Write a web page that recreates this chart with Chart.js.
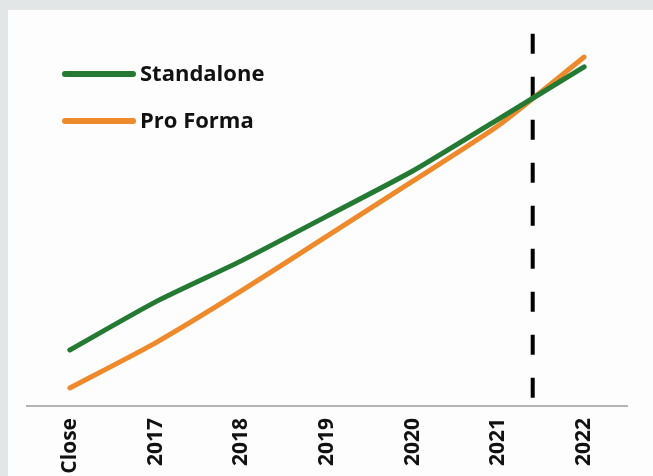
<!DOCTYPE html>
<html>
<head>
<meta charset="utf-8">
<script src="https://cdn.jsdelivr.net/npm/chart.js@4/dist/chart.umd.min.js"></script>
<style>
  html, body { margin: 0; padding: 0; }
  body { width: 653px; height: 476px; background: #e3e6e6; position: relative; overflow: hidden; }
  #panel { position: absolute; left: 8px; top: 10px; width: 645px; height: 466px; background: #fdfdfd; }
  canvas { display: block; }
</style>
</head>
<body>
<div id="panel"><canvas id="c" width="645" height="466"></canvas></div>
<script>
// ---- data ----
const categories = ['Close', '2017', '2018', '2019', '2020', '2021', '2022'];
const standalone = [14.9, 27.7, 38.6, 50.5, 62.5, 76.3, 90.2];
const proForma   = [4.8, 16.8, 30.6, 45.2, 59.8, 74.6, 92.8];
const seriesNames = ['Standalone', 'Pro Forma'];
const markerX = 5.4;             // position between 2021 and 2022 (category index)
const markerSpan = [99, 1.5];    // vertical extent of the dashed marker (value units)

const GREEN = '#247a33';
const ORANGE = '#ef8a2c';
const FONT = "'Open Sans', 'DejaVu Sans', sans-serif";

const legendPlugin = {
  id: 'insideLegend',
  afterDatasetsDraw(chart, args, opts) {
    const ctx = chart.ctx;
    const area = chart.chartArea;
    ctx.save();
    ctx.font = `bold ${opts.fontSize}px ${FONT}`;
    ctx.textBaseline = 'middle';
    ctx.textAlign = 'left';
    chart.data.datasets.forEach((ds, i) => {
      if (!ds.inLegend) return;
      const y = area.top + opts.top + i * opts.rowGap;
      const x = area.left + opts.left;
      ctx.strokeStyle = ds.borderColor;
      ctx.lineWidth = opts.lineWidth;
      ctx.lineCap = 'round';
      ctx.beginPath();
      ctx.moveTo(x, y);
      ctx.lineTo(x + opts.swatch, y);
      ctx.stroke();
      ctx.fillStyle = '#111111';
      ctx.fillText(ds.label, x + opts.swatch + opts.gap, y + 1);
    });
    ctx.restore();
  }
};

new Chart(document.getElementById('c'), {
  type: 'line',
  data: {
    labels: categories,
    datasets: [
      {
        label: seriesNames[0], data: standalone, inLegend: true,
        borderColor: GREEN, backgroundColor: GREEN, borderWidth: 5,
        pointRadius: 0, tension: 0.2, borderCapStyle: 'round', xAxisID: 'x', yAxisID: 'y'
      },
      {
        label: seriesNames[1], data: proForma, inLegend: true,
        borderColor: ORANGE, backgroundColor: ORANGE, borderWidth: 5,
        pointRadius: 0, tension: 0.2, borderCapStyle: 'round', xAxisID: 'x', yAxisID: 'y'
      },
      {
        label: 'marker', data: markerSpan.map(v => ({ x: markerX, y: v })), inLegend: false,
        borderColor: '#000000', borderWidth: 4, borderDash: [20, 23],
        pointRadius: 0, tension: 0, xAxisID: 'x2', yAxisID: 'y'
      }
    ]
  },
  options: {
    responsive: false,
    animation: false,
    layout: { padding: { left: 19, right: 26, top: 20, bottom: 0 } },
    plugins: {
      legend: { display: false },
      tooltip: { enabled: false },
      insideLegend: { left: 38, top: 44, rowGap: 47, swatch: 68, gap: 7, lineWidth: 6, fontSize: 22 }
    },
    scales: {
      x: {
        type: 'category',
        offset: true,
        grid: { display: false, drawTicks: false },
        border: { display: true, color: '#b5b5b5', width: 2 },
        ticks: {
          maxRotation: 90, minRotation: 90, padding: 12,
          color: '#111111', font: { family: FONT, size: 21, weight: 'bold' }
        },
        afterFit(scale) { scale.height = 70; }
      },
      x2: {
        type: 'linear', display: false, min: -0.5, max: 6.5
      },
      y: {
        display: false, min: 0, max: 100
      }
    }
  },
  plugins: [legendPlugin]
});
</script>
</body>
</html>
